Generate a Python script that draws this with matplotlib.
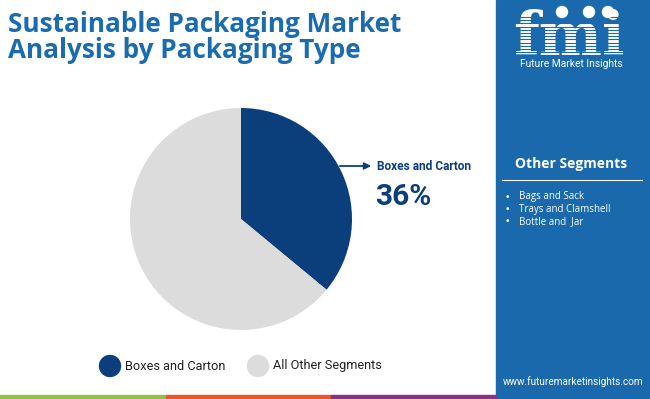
import numpy as np
import matplotlib
matplotlib.use("Agg")
import matplotlib.pyplot as plt
from matplotlib.patches import Rectangle, Circle, Ellipse

# data
segments = ["Boxes and Carton", "All Other Segments"]
shares = [36, 64]
other_segments = ["Bags and Sack", "Trays and Clamshell", "Bottle and  Jar"]
seg_colors = ["#0b3f7c", "#dcdcdc"]

title_col = "#1a6bb0"
panel_col = "#1a69ad"
navy = "#0b3f7c"

W, H = 650, 399
fig = plt.figure(figsize=(W / 100, H / 100), dpi=100)

# background axes in pixel coordinates
bg = fig.add_axes([0, 0, 1, 1])
bg.set_xlim(0, W)
bg.set_ylim(H, 0)
bg.axis("off")

# title
bg.text(8, 24, "Sustainable Packaging Market", fontsize=18.8, fontweight="bold",
        color=title_col, family="Open Sans", va="center", ha="left")
bg.text(8, 50, "Analysis by Packaging Type", fontsize=18.8, fontweight="bold",
        color=title_col, family="Open Sans", va="center", ha="left")

# right panel
bg.add_patch(Rectangle((496, 0), W - 496, H, color=panel_col, zorder=0))

# logo
bg.text(569, 55, "fmi", fontsize=43, fontweight="bold", color="white",
        family="DejaVu Serif", ha="center", va="baseline")
for y in np.arange(17, 56, 3.2):
    bg.plot([508, 632], [y, y], color=panel_col, lw=0.8, zorder=3)
for x in [562, 589, 608]:
    bg.add_patch(Circle((x, 12), 5.5, color="white", zorder=4))
bg.text(571, 64, "Future Market Insights", fontsize=7.4, color="white",
        family="Roboto", ha="center", va="center")

# other segments box
bg.text(571, 164, "Other Segments", fontsize=10, fontweight="bold", color="white",
        family="Open Sans", ha="center", va="center")
bg.plot([502, 642], [180, 180], color="white", lw=0.8)
for i, s in enumerate(other_segments):
    y = 197 + i * 12.5
    bg.text(507, y, "\u2022", fontsize=6.8, color="white", ha="center", va="center")
    bg.text(519, y, s, fontsize=7, color="white", family="Open Sans",
            ha="left", va="center")

bg.text(573, 382, "www.futuremarketinsights.com", fontsize=7.2, color="white",
        family="Roboto", ha="center", va="center")

# bottom colour strip
for x0, c in [(0, "#8bc34a"), (166, "#e8572a"), (331, "#8b2f8b")]:
    bg.add_patch(Rectangle((x0, 395), 165, 4, color=c, zorder=2))

# annotation
bg.annotate("", xy=(374, 166), xytext=(337, 166),
            arrowprops=dict(arrowstyle="-|>", color=navy, lw=1.3,
                            mutation_scale=10))
bg.text(377, 166, segments[0], fontsize=8.6, fontweight="bold", color=navy,
        family="Roboto", ha="left", va="center")
bg.text(375, 197, f"{shares[0]}%", fontsize=21.5, fontweight="bold", color=navy,
        family="Roboto", ha="left", va="center")

# legend
lx = [110, 258]
for x, lab, c in zip(lx, segments, seg_colors):
    bg.add_patch(Ellipse((x, 366), 21, 21, color=c))
    bg.text(x + 15, 366, lab, fontsize=9.2, color="#222222", family="Roboto",
            ha="left", va="center")

# pie
r = 111
cx, cy = 241, 219
pax = fig.add_axes([(cx - r) / W, (H - cy - r) / H, 2 * r / W, 2 * r / H])
pax.pie(shares, colors=seg_colors, startangle=90, counterclock=False, radius=1,
        wedgeprops=dict(linewidth=0))
pax.set_xlim(-1, 1)
pax.set_ylim(-1, 1)
pax.axis("off")

fig.savefig("out.png", dpi=100)
